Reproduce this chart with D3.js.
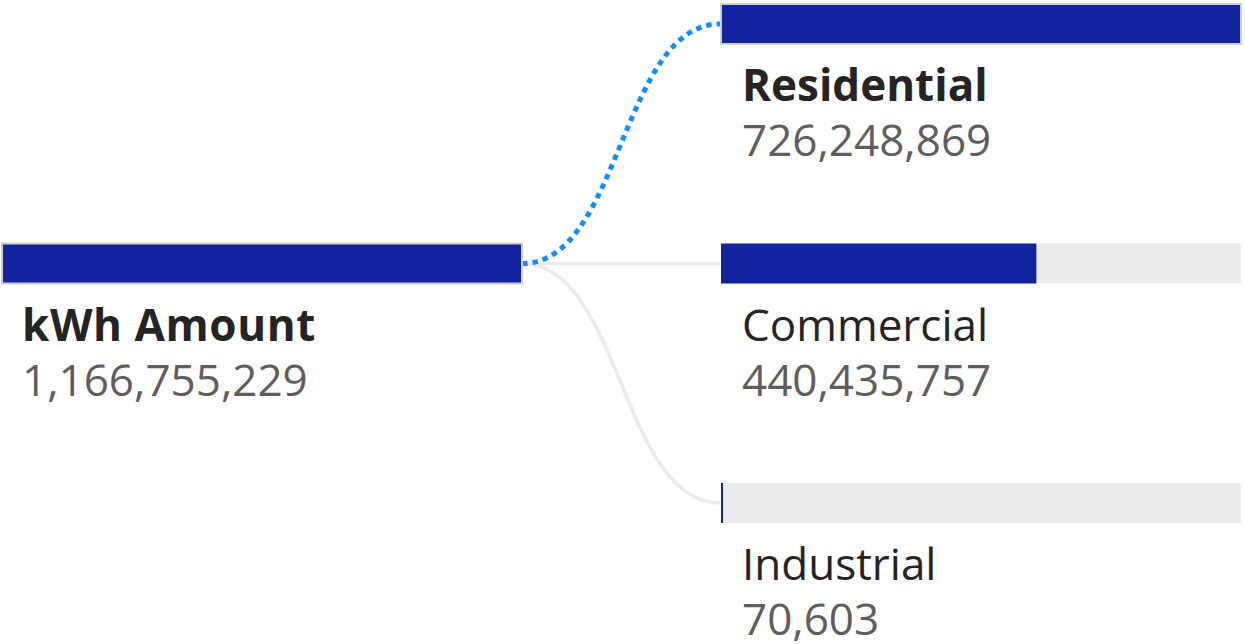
<!DOCTYPE html>
<html>
<head>
<meta charset="utf-8">
<script src="https://cdn.jsdelivr.net/npm/d3@7"></script>
<style>
  html, body { margin: 0; padding: 0; background: #ffffff; }
  svg { display: block; }
  text { font-family: "Open Sans", "Noto Sans", sans-serif; }
</style>
</head>
<body>
<svg id="tree" width="1245" height="644"></svg>
<script>
// Decomposition tree: total kWh split by customer class
const rootLabel = "kWh Amount";
const rootValue = 1166755229;
const categories = ["Residential", "Commercial", "Industrial"];
const values = [726248869, 440435757, 70603];
const selected = "Residential";

const W = 1245, H = 644;
const svg = d3.select("#tree");

const barW = 520, barH = 40;
const colX = d3.scalePoint().domain(["root", "child"]).range([2, 721]);
const rowY = d3.scalePoint().domain(categories).range([24, 503]);
const rootY = rowY(categories[1]);

// bar length relative to the largest sibling at each level
const xRoot = d3.scaleLinear().domain([0, rootValue]).range([0, barW]);
const xChild = d3.scaleLinear().domain([0, d3.max(values)]).range([0, barW]);
const fmt = d3.format(",");

const nodes = categories.map((c, i) => ({ name: c, value: values[i] }));

// connectors
const link = d3.linkHorizontal().x(d => d[0]).y(d => d[1]);
const gLinks = svg.append("g");
gLinks.selectAll("path.bg")
  .data(nodes.filter(d => d.name !== selected))
  .join("path")
  .attr("d", d => link({ source: [colX("root") + barW, rootY], target: [colX("child") - 1, rowY(d.name)] }))
  .attr("fill", "none")
  .attr("stroke", "#ebebeb")
  .attr("stroke-width", 3.5);
gLinks.selectAll("path.sel")
  .data(nodes.filter(d => d.name === selected))
  .join("path")
  .attr("d", d => link({ source: [colX("root") + barW, rootY], target: [colX("child") - 1, rowY(d.name)] }))
  .attr("fill", "none")
  .attr("stroke", "#118dff")
  .attr("stroke-width", 5)
  .attr("stroke-dasharray", "5.5 5");

// root node
const gRoot = svg.append("g");
gRoot.append("rect")
  .attr("x", colX("root")).attr("y", rootY - barH / 2)
  .attr("width", barW).attr("height", barH)
  .attr("fill", "#ebebeb");
gRoot.append("rect")
  .attr("x", colX("root")).attr("y", rootY - barH / 2)
  .attr("width", xRoot(rootValue)).attr("height", barH)
  .attr("fill", "#12239e")
  .attr("stroke", "#cfcfcf").attr("stroke-width", 2);
gRoot.append("text")
  .attr("x", colX("root") + 20).attr("y", rootY + barH / 2 + 57)
  .attr("font-size", 44).attr("font-weight", 700).attr("fill", "#252423")
  .attr("letter-spacing", 0.6)
  .text(rootLabel);
gRoot.append("text")
  .attr("x", colX("root") + 20).attr("y", rootY + barH / 2 + 112)
  .attr("font-size", 44).attr("fill", "#605e5c")
  .text(fmt(rootValue));

// child nodes
const gNode = svg.append("g").selectAll("g")
  .data(nodes).join("g")
  .attr("transform", d => `translate(${colX("child")},${rowY(d.name) - barH / 2})`);
gNode.append("rect")
  .attr("width", barW).attr("height", barH)
  .attr("fill", "#ebebeb");
gNode.append("rect")
  .attr("width", d => Math.max(2, xChild(d.value))).attr("height", barH)
  .attr("fill", "#12239e")
  .attr("stroke", d => d.name === selected ? "#cfcfcf" : "none")
  .attr("stroke-width", 2);
gNode.append("text")
  .attr("x", 21).attr("y", barH + 57)
  .attr("font-size", 44)
  .attr("font-weight", d => d.name === selected ? 700 : 400)
  .attr("fill", "#252423")
  .text(d => d.name);
gNode.append("text")
  .attr("x", 21).attr("y", barH + 112)
  .attr("font-size", 44).attr("fill", "#605e5c")
  .text(d => fmt(d.value));
</script>
</body>
</html>
